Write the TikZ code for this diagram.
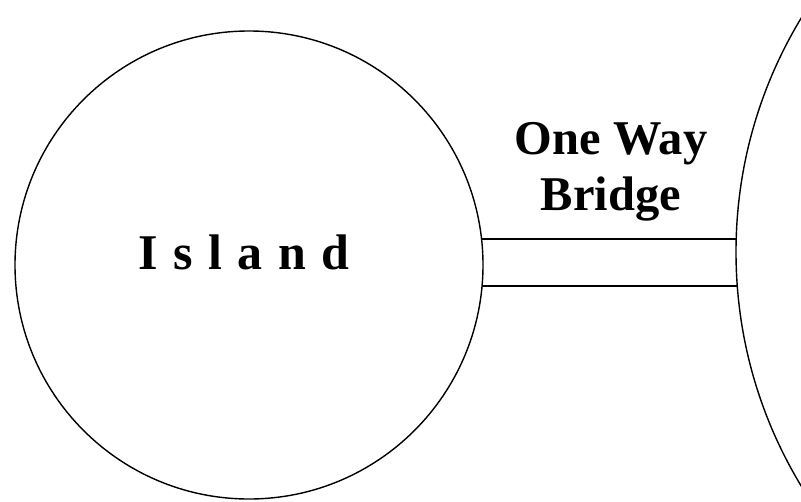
\documentclass[tikz,border=0pt]{standalone}
\usepackage{fontspec}
\setmainfont{Liberation Serif}
\begin{document}
\begin{tikzpicture}[x=1pt,y=-1pt,
  shapeline/.style={draw=black,line width=1.4pt},
  bridgeline/.style={draw=black,line width=1.4pt},
  lbl/.style={font=\bfseries\fontsize{48.5}{56}\selectfont,align=center,inner sep=0pt},
  islbl/.style={font=\bfseries\fontsize{50}{60}\selectfont,inner sep=0pt}]
\useasboundingbox (0,0) rectangle (801,501);
\node[circle,shapeline,minimum size=468pt,inner sep=0pt] (island) at (249,265) {};
\node[circle,shapeline,minimum size=904pt,inner sep=0pt] (main) at (1188,252) {};
\node[islbl,anchor=base] (islandtxt) at (244,269) {\spaceskip=15.5pt I s l a n d};
\node[lbl,anchor=base] (bridgetxt) at (611,210) {One Way\\Bridge};
\path (island.center) ++(232.6,-26) coordinate (i1);
\path (island.center) ++(232.6,21) coordinate (i2);
\path (main.center) ++(-451.6,-13) coordinate (m1);
\path (main.center) ++(-451.3,34) coordinate (m2);
\draw[bridgeline] (i1) -- (m1 |- i1);
\draw[bridgeline] (i2) -- (m2 |- i2);
\end{tikzpicture}
\end{document}
